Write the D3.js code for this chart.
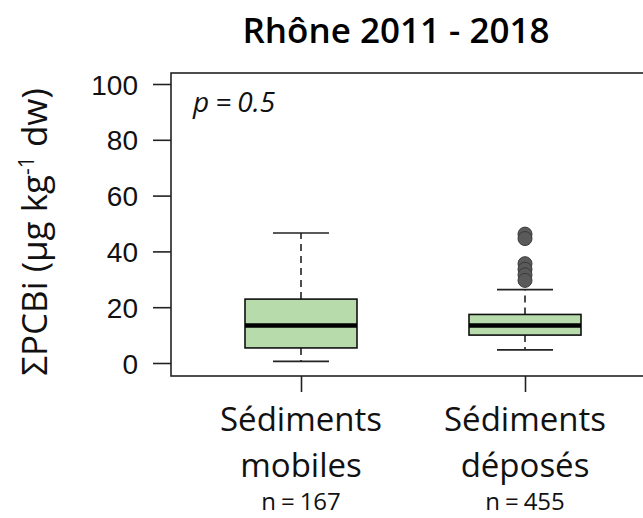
<!DOCTYPE html>
<html>
<head>
<meta charset="utf-8">
<script src="https://cdn.jsdelivr.net/npm/d3@7"></script>
<style>
  body { margin: 0; background: #fff; }
  svg { font-family: "Open Sans", sans-serif; }
</style>
</head>
<body>
<svg></svg>
<script>
var width = 643;
var height = 518;

// data
var categories = ["mobiles", "déposés"];
var catLines = [["Sédiments", "mobiles"], ["Sédiments", "déposés"]];
var counts = [167, 455];
var whiskerLow = [0.6, 4.7];
var q1 = [5.4, 10.0];
var median = [13.4, 13.4];
var q3 = [22.9, 17.4];
var whiskerHigh = [46.6, 26.3];
var outliers = [[], [46.2, 44.6, 35.6, 33.6, 31.6, 29.6]];
var yTicks = [0, 20, 40, 60, 80, 100];

var margin = {top: 73, right: -2, bottom: 142, left: 171};

var svg = d3.select("svg")
            .attr("width", width)
            .attr("height", height);

var y = d3.scaleLinear()
          .domain([0, 100])
          .range([363, 84]);

var x = d3.scalePoint()
          .domain(categories)
          .range([301, 525]);

var boxW = 112;

// frame
svg.append("rect")
    .attr("x", margin.left)
    .attr("y", margin.top)
    .attr("width", width - margin.left - margin.right)
    .attr("height", height - margin.top - margin.bottom)
    .attr("fill", "none")
    .attr("stroke", "#222")
    .attr("stroke-width", 1.6);

// y axis
var yAxis = svg.append("g")
    .attr("transform", "translate(" + margin.left + ",0)")
    .call(d3.axisLeft(y).tickValues(yTicks).tickSize(18).tickPadding(15));
yAxis.select(".domain").remove();
yAxis.selectAll(".tick line").attr("stroke", "#222").attr("stroke-width", 1.6);
yAxis.selectAll(".tick text")
    .attr("fill", "#111")
    .style("font-size", "28px")
    .attr("dy", "0.36em");

// x axis ticks
var xAxis = svg.append("g")
    .attr("transform", "translate(0," + (height - margin.bottom) + ")")
    .call(d3.axisBottom(x).tickSize(16).tickFormat(""));
xAxis.select(".domain").remove();
xAxis.selectAll(".tick line").attr("stroke", "#222").attr("stroke-width", 1.6);

// category labels
var labels = svg.append("g").selectAll("g")
    .data(categories)
    .join("g")
    .attr("transform", d => "translate(" + x(d) + ",0)");

labels.append("text")
    .attr("text-anchor", "middle")
    .attr("y", 431)
    .style("font-size", "33px")
    .attr("fill", "#111")
    .text((d, i) => catLines[i][0]);
labels.append("text")
    .attr("text-anchor", "middle")
    .attr("y", 477)
    .style("font-size", "33px")
    .attr("fill", "#111")
    .text((d, i) => catLines[i][1]);
var nText = labels.append("text")
    .attr("text-anchor", "middle")
    .attr("y", 510)
    .style("font-size", "24px")
    .attr("fill", "#111");
nText.append("tspan").text("n");
nText.append("tspan").attr("dx", 5).text("=");
nText.append("tspan").attr("dx", 5).text((d, i) => counts[i]);

// boxes
var boxes = svg.append("g").selectAll("g")
    .data(categories)
    .join("g");

boxes.append("line")
    .attr("x1", d => x(d)).attr("x2", d => x(d))
    .attr("y1", (d, i) => y(q3[i])).attr("y2", (d, i) => y(whiskerHigh[i]))
    .attr("stroke", "#222").attr("stroke-width", 1.6)
    .attr("stroke-dasharray", "7,5");
boxes.append("line")
    .attr("x1", d => x(d)).attr("x2", d => x(d))
    .attr("y1", (d, i) => y(q1[i])).attr("y2", (d, i) => y(whiskerLow[i]))
    .attr("stroke", "#222").attr("stroke-width", 1.6)
    .attr("stroke-dasharray", "7,5");

boxes.append("line")
    .attr("x1", d => x(d) - boxW / 4).attr("x2", d => x(d) + boxW / 4)
    .attr("y1", (d, i) => y(whiskerHigh[i])).attr("y2", (d, i) => y(whiskerHigh[i]))
    .attr("stroke", "#222").attr("stroke-width", 1.6);
boxes.append("line")
    .attr("x1", d => x(d) - boxW / 4).attr("x2", d => x(d) + boxW / 4)
    .attr("y1", (d, i) => y(whiskerLow[i])).attr("y2", (d, i) => y(whiskerLow[i]))
    .attr("stroke", "#222").attr("stroke-width", 1.6);

boxes.append("rect")
    .attr("x", d => x(d) - boxW / 2)
    .attr("width", boxW)
    .attr("y", (d, i) => y(q3[i]))
    .attr("height", (d, i) => y(q1[i]) - y(q3[i]))
    .attr("fill", "#b7dbab")
    .attr("stroke", "#111")
    .attr("stroke-width", 1.6);

boxes.append("line")
    .attr("x1", d => x(d) - boxW / 2).attr("x2", d => x(d) + boxW / 2)
    .attr("y1", (d, i) => y(median[i])).attr("y2", (d, i) => y(median[i]))
    .attr("stroke", "#000").attr("stroke-width", 4.5);

boxes.selectAll("circle")
    .data((d, i) => outliers[i].map(v => ({cat: d, v: v})))
    .join("circle")
    .attr("cx", o => x(o.cat))
    .attr("cy", o => y(o.v))
    .attr("r", 7)
    .attr("fill", "#5a5a5a")
    .attr("stroke", "#3a3a3a")
    .attr("stroke-width", 1);

// p value
var pText = svg.append("text")
    .attr("x", 193)
    .attr("y", 112)
    .style("font-size", "28px")
    .style("font-style", "italic")
    .attr("fill", "#111");
pText.append("tspan").text("p");
pText.append("tspan").attr("dx", 6).text("=");
pText.append("tspan").attr("dx", 6).text("0.5");

// title
svg.append("text")
    .attr("x", 396)
    .attr("y", 43)
    .attr("text-anchor", "middle")
    .style("font-size", "35px")
    .style("font-weight", "600")
    .attr("fill", "#000")
    .text("Rhône 2011 - 2018");

// y label
var yl = svg.append("text")
    .attr("transform", "translate(47,232) rotate(-90)")
    .attr("text-anchor", "middle")
    .style("font-size", "35px")
    .attr("fill", "#111");
yl.append("tspan").text("ΣPCBi (µg kg");
yl.append("tspan").attr("dy", -13).style("font-size", "21px").text("-1");
yl.append("tspan").attr("dy", 13).text(" dw)");
</script>
</body>
</html>
